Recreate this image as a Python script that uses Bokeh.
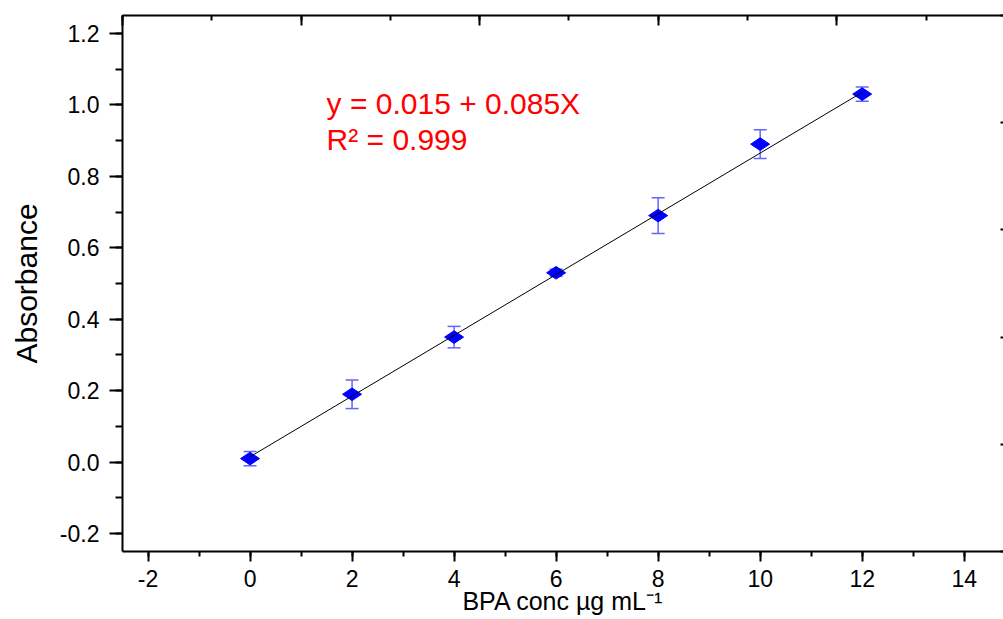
import math
from bokeh.plotting import figure
from bokeh.models import (ColumnDataSource, Whisker, TeeHead, Label, LinearAxis,
                          Range1d, SingleIntervalTicker, PrintfTickFormatter)
from bokeh.embed import file_html
from bokeh.resources import INLINE

# ---- data ----
conc = [0, 2, 4, 6, 8, 10, 12]
absorbance = [0.01, 0.19, 0.35, 0.53, 0.69, 0.89, 1.03]
abs_err = [0.02, 0.04, 0.03, 0.01, 0.05, 0.04, 0.02]
fit_intercept = 0.015
fit_slope = 0.085
equation_text = "y = 0.015 + 0.085X"
r2_text = "R\u00b2 = 0.999"
x_title = "BPA conc \u00b5g mL\u207b\u00b9"
y_title = "Absorbance"

FONT = "Liberation Sans"

src = ColumnDataSource(dict(
    x=conc, y=absorbance,
    lo=[a - e for a, e in zip(absorbance, abs_err)],
    hi=[a + e for a, e in zip(absorbance, abs_err)],
))
fit_x = [conc[0], conc[-1]]
fit_src = ColumnDataSource(dict(x=fit_x, y=[fit_intercept + fit_slope * v for v in fit_x]))

p = figure(width=1003, height=619, output_backend="svg", toolbar_location=None,
           x_range=Range1d(-2.5, 14.77), y_range=Range1d(-0.25, 1.25),
           min_border_left=122, min_border_right=0, min_border_top=15, min_border_bottom=68)
p.outline_line_color = None
p.grid.visible = False
p.background_fill_color = "white"
p.border_fill_color = "white"

# bottom axis
xa = p.xaxis[0]
xa.ticker = SingleIntervalTicker(interval=2, num_minor_ticks=2)
xa.formatter = PrintfTickFormatter(format="%d")
xa.axis_line_width = 2
xa.major_tick_line_width = 2
xa.minor_tick_line_width = 2
xa.major_tick_out = 10
xa.major_tick_in = 0
xa.minor_tick_out = 5
xa.minor_tick_in = 0
xa.major_label_text_font = FONT
xa.major_label_text_font_size = "23px"
xa.major_label_text_color = "black"
xa.major_label_standoff = 8
xa.axis_label = x_title
xa.axis_label_text_font = FONT
xa.axis_label_text_font_size = "25px"
xa.axis_label_text_font_style = "normal"
xa.axis_label_text_color = "black"
xa.axis_label_standoff = -3

# left axis
ya = p.yaxis[0]
ya.ticker = SingleIntervalTicker(interval=0.2, num_minor_ticks=2)
ya.formatter = PrintfTickFormatter(format="%.1f")
ya.axis_line_width = 2
ya.major_tick_line_width = 2
ya.minor_tick_line_width = 2
ya.major_tick_out = 13
ya.major_tick_in = 0
ya.minor_tick_out = 7
ya.minor_tick_in = 0
ya.major_label_text_font = FONT
ya.major_label_text_font_size = "23px"
ya.major_label_text_color = "black"
ya.major_label_standoff = 10
ya.axis_label = y_title
ya.axis_label_text_font = FONT
ya.axis_label_text_font_size = "30px"
ya.axis_label_text_font_style = "normal"
ya.axis_label_text_color = "black"
ya.axis_label_standoff = 14

# top axis (separate scale, inward ticks, no labels)
p.extra_x_ranges = {"top": Range1d(0, 9.866)}
ta = LinearAxis(x_range_name="top",
                ticker=SingleIntervalTicker(interval=2, num_minor_ticks=2))
ta.axis_line_width = 2
ta.major_tick_line_width = 2
ta.minor_tick_line_width = 2
ta.major_tick_in = 10
ta.major_tick_out = 0
ta.minor_tick_in = 5
ta.minor_tick_out = 0
ta.major_label_text_font_size = "0px"
ta.major_label_text_color = None
ta.major_label_standoff = 0
p.add_layout(ta, "above")

# right axis (only tiny inward ticks visible)
p.extra_y_ranges = {"right": Range1d(0, 5)}
ra = LinearAxis(y_range_name="right",
                ticker=SingleIntervalTicker(interval=1, num_minor_ticks=0))
ra.axis_line_color = None
ra.major_tick_line_width = 2
ra.major_tick_in = 3
ra.major_tick_out = 0
ra.minor_tick_line_color = None
ra.major_label_text_font_size = "0px"
ra.major_label_text_color = None
ra.major_label_standoff = 0
p.add_layout(ra, "right")

# error bars
eb_color = "#6464ff"
wh = Whisker(source=src, base="x", lower="lo", upper="hi", dimension="height",
             line_color=eb_color, line_width=1.5,
             upper_head=TeeHead(size=13, line_color=eb_color, line_width=1.5),
             lower_head=TeeHead(size=13, line_color=eb_color, line_width=1.5))
wh.level = "underlay"
p.add_layout(wh)

# markers
p.scatter("x", "y", source=src, marker="diamond", size=19, angle=math.pi / 2,
          fill_color="#0000ff", line_color="#0000ff", line_width=1)

# fit line (drawn over markers)
p.line("x", "y", source=fit_src, line_color="black", line_width=1)

# equation text
p.add_layout(Label(x=1.5, y=1.003, text=equation_text, text_color="#ff0000",
                   text_font=FONT, text_font_size="30px", text_baseline="alphabetic"))
p.add_layout(Label(x=1.5, y=0.902, text=r2_text, text_color="#ff0000",
                   text_font=FONT, text_font_size="30px", text_baseline="alphabetic"))

open("out.html", "w").write(file_html(p, INLINE))
